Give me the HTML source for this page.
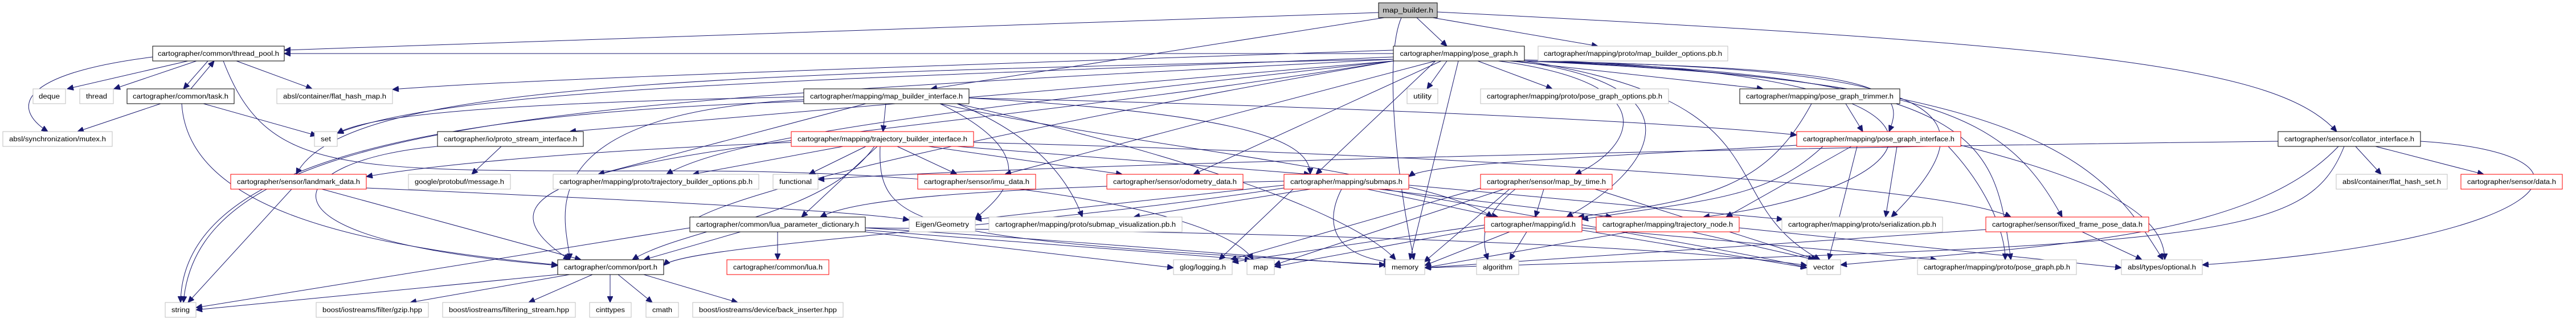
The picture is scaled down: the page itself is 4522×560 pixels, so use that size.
<!DOCTYPE html>
<html><head><meta charset="utf-8">
<style>
html,body{margin:0;padding:0;background:#fff;}
svg{display:block;}
text{font-family:"Liberation Sans",Arial,sans-serif;font-size:11.5px;fill:#000;}
</style></head>
<body>
<svg width="4522" height="560" viewBox="0 0 4522 560" xmlns="http://www.w3.org/2000/svg">
<defs>
<marker id="a" markerUnits="userSpaceOnUse" markerWidth="12" markerHeight="10" refX="11" refY="5" orient="auto">
<path d="M0,0 L11,5 L0,10 z" fill="#191970" stroke="#191970"/>
</marker>
</defs>
<g fill="none" stroke="#191970" stroke-width="1" marker-end="url(#a)">
<path d="M2420,22 L499,88"/>
<path d="M2446,94 L499,94"/>
<path d="M2430,31 L1634,156"/>
<path d="M2487,31 L2540,81"/>
<path d="M2515,31 L2805,81"/>
<path d="M2523,21 C3700,80 4000,120 4102,231"/>
<path d="M2460,31 C2430,100 2450,300 2482,456"/>
<path d="M330,107 L118,156"/>
<path d="M345,107 L200,156"/>
<path d="M365,107 L322,156"/>
<path d="M335,156 L376,107"/>
<path d="M415,107 L548,156"/>
<path d="M268,100 C30,130 20,190 84,231"/>
<path d="M392,107 C470,310 600,300 1200,300 C1800,300 2150,380 2200,456"/>
<path d="M282,182 L136,231"/>
<path d="M357,182 L556,238"/>
<path d="M319,182 C330,360 600,430 979,465"/>
<path d="M2446,88 C1500,120 900,140 689,157"/>
<path d="M2446,100 C1500,140 800,150 592,234"/>
<path d="M2446,104 C1200,130 600,150 520,306"/>
<path d="M2446,104 C1000,180 350,200 322,531"/>
<path d="M2446,107 C1500,260 700,260 1000,456"/>
<path d="M2446,107 C1800,220 1300,330 1211,390"/>
<path d="M2446,107 C1800,180 1300,230 1170,306"/>
<path d="M2540,107 L2505,156"/>
<path d="M2594,107 L2725,156"/>
<path d="M2650,107 L3095,156"/>
<path d="M2670,107 C3300,120 3350,150 3316,231"/>
<path d="M2520,107 L2310,306"/>
<path d="M2630,107 C2950,150 2850,270 2765,306"/>
<path d="M2660,107 C3000,150 2900,300 2750,381"/>
<path d="M2676,105 C3550,130 3400,330 2990,381"/>
<path d="M2560,107 L2475,456"/>
<path d="M2676,107 C3150,180 3000,350 3195,456"/>
<path d="M2676,107 C3450,120 3500,200 3320,381"/>
<path d="M2676,107 C3500,130 3500,250 3530,456"/>
<path d="M2676,107 C3600,140 3700,300 3797,456"/>
<path d="M2676,107 C3400,140 3520,200 3620,381"/>
<path d="M2520,107 L1764,306"/>
<path d="M2530,107 L2095,306"/>
<path d="M2446,107 L1000,231"/>
<path d="M1555,182 L1550,231"/>
<path d="M1520,182 L1050,306"/>
<path d="M1701,172 C2200,200 2300,250 2300,306"/>
<path d="M1701,172 C2500,190 3000,220 3154,237"/>
<path d="M1650,182 C2000,260 2500,300 2620,381"/>
<path d="M1680,182 C1800,230 1870,300 1900,381"/>
<path d="M1411,175 C900,200 1000,400 1000,456"/>
<path d="M1411,170 C900,180 650,200 592,234"/>
<path d="M1411,178 C700,200 320,300 317,531"/>
<path d="M1650,182 C1850,280 1750,350 1712,384"/>
<path d="M1680,182 C2200,300 2400,400 2450,456"/>
<path d="M1520,257 L1420,306"/>
<path d="M1575,257 L1680,306"/>
<path d="M1630,257 L1970,306"/>
<path d="M1709,250 C2500,270 3400,320 3530,381"/>
<path d="M1389,250 C900,270 700,300 643,310"/>
<path d="M1680,257 L2300,306"/>
<path d="M1540,257 L1407,381"/>
<path d="M1535,257 C1450,380 1200,400 1110,456"/>
<path d="M1545,257 C1540,400 1600,420 2440,465"/>
<path d="M1480,257 L1216,306"/>
<path d="M880,257 L828,306"/>
<path d="M768,257 C500,280 400,420 979,466"/>
<path d="M512,332 L330,531"/>
<path d="M565,332 L1020,456"/>
<path d="M643,330 C1100,350 1500,370 1596,386"/>
<path d="M979,482 L344,544"/>
<path d="M1000,482 L720,531"/>
<path d="M1040,482 L928,531"/>
<path d="M1071,482 L1071,531"/>
<path d="M1085,482 L1145,531"/>
<path d="M1130,482 L1295,531"/>
<path d="M1365,407 L1365,456"/>
<path d="M1519,404 L2196,456"/>
<path d="M1519,400 C2000,430 2300,460 2432,465"/>
<path d="M1211,400 L344,540"/>
<path d="M1519,407 L2060,470"/>
<path d="M1519,400 C2500,410 3000,440 3172,466"/>
<path d="M1300,407 L1130,456"/>
<path d="M2254,325 L1712,385"/>
<path d="M2400,332 L2630,381"/>
<path d="M2355,332 C2320,400 2350,450 2440,460"/>
<path d="M2430,332 C2800,400 3100,450 3172,470"/>
<path d="M2270,332 L2140,456"/>
<path d="M2473,325 L3130,385"/>
<path d="M2300,332 L1990,381"/>
<path d="M2254,318 C1700,330 1500,350 1440,381"/>
<path d="M2254,330 C1800,400 1200,430 1165,466"/>
<path d="M2420,332 L2830,381"/>
<path d="M2710,332 L2695,381"/>
<path d="M2650,332 L2500,460"/>
<path d="M2640,332 L2237,465"/>
<path d="M2660,332 C2600,380 2600,420 2612,456"/>
<path d="M2800,332 L3190,456"/>
<path d="M2600,330 L2160,456"/>
<path d="M2650,407 L2501,466"/>
<path d="M2680,407 L2650,456"/>
<path d="M2777,404 L3172,470"/>
<path d="M2606,400 L2237,468"/>
<path d="M2606,395 L2163,460"/>
<path d="M2777,400 L3400,456"/>
<path d="M2860,407 L2501,470"/>
<path d="M2970,407 L3185,456"/>
<path d="M3053,400 L3724,470"/>
<path d="M3240,182 L3270,231"/>
<path d="M3180,182 C3100,330 3000,350 2770,381"/>
<path d="M3200,257 C3100,350 3000,350 2777,385"/>
<path d="M3250,257 L3030,381"/>
<path d="M3260,257 L3210,456"/>
<path d="M3442,255 C3700,320 3800,380 3800,456"/>
<path d="M3420,257 C3480,320 3520,400 3520,456"/>
<path d="M3330,257 L3310,381"/>
<path d="M3154,255 C2700,280 2500,290 2473,310"/>
<path d="M3999,248 C3000,260 1800,290 1436,315"/>
<path d="M4135,257 L4180,306"/>
<path d="M4170,257 L4360,306"/>
<path d="M4249,248 C4600,270 4500,420 3866,465"/>
<path d="M4105,257 C3950,420 3600,430 3231,465"/>
<path d="M4115,257 C4050,420 3900,430 2501,470"/>
<path d="M3655,407 L3760,456"/>
<path d="M3486,403 L2501,470"/>
</g>
<g>
<rect x="2420" y="5" width="103" height="26" fill="#bfbfbf" stroke="#000"/><text x="2471.5" y="22" text-anchor="middle" textLength="89" lengthAdjust="spacingAndGlyphs">map_builder.h</text>
<rect x="268" y="81" width="231" height="26" fill="#fff" stroke="#000"/><text x="383.5" y="98" text-anchor="middle" textLength="213" lengthAdjust="spacingAndGlyphs">cartographer/common/thread_pool.h</text>
<rect x="2446" y="81" width="230" height="26" fill="#fff" stroke="#000"/><text x="2561" y="98" text-anchor="middle" textLength="207" lengthAdjust="spacingAndGlyphs">cartographer/mapping/pose_graph.h</text>
<rect x="2700" y="81" width="333" height="26" fill="#fff" stroke="#bfbfbf"/><text x="2866.5" y="98" text-anchor="middle" textLength="313" lengthAdjust="spacingAndGlyphs">cartographer/mapping/proto/map_builder_options.pb.h</text>
<rect x="58" y="156" width="57" height="26" fill="#fff" stroke="#bfbfbf"/><text x="86.5" y="173" text-anchor="middle" textLength="37" lengthAdjust="spacingAndGlyphs">deque</text>
<rect x="140" y="156" width="59" height="26" fill="#fff" stroke="#bfbfbf"/><text x="169.5" y="173" text-anchor="middle" textLength="37" lengthAdjust="spacingAndGlyphs">thread</text>
<rect x="223" y="156" width="188" height="26" fill="#fff" stroke="#000"/><text x="317" y="173" text-anchor="middle" textLength="168" lengthAdjust="spacingAndGlyphs">cartographer/common/task.h</text>
<rect x="486" y="156" width="203" height="26" fill="#fff" stroke="#bfbfbf"/><text x="587.5" y="173" text-anchor="middle" textLength="181" lengthAdjust="spacingAndGlyphs">absl/container/flat_hash_map.h</text>
<rect x="1411" y="156" width="290" height="26" fill="#fff" stroke="#000"/><text x="1556" y="173" text-anchor="middle" textLength="268" lengthAdjust="spacingAndGlyphs">cartographer/mapping/map_builder_interface.h</text>
<rect x="2470" y="156" width="54" height="26" fill="#fff" stroke="#bfbfbf"/><text x="2497" y="173" text-anchor="middle" textLength="32" lengthAdjust="spacingAndGlyphs">utility</text>
<rect x="2599" y="156" width="330" height="26" fill="#fff" stroke="#bfbfbf"/><text x="2764" y="173" text-anchor="middle" textLength="308" lengthAdjust="spacingAndGlyphs">cartographer/mapping/proto/pose_graph_options.pb.h</text>
<rect x="3054" y="156" width="281" height="26" fill="#fff" stroke="#000"/><text x="3194.5" y="173" text-anchor="middle" textLength="259" lengthAdjust="spacingAndGlyphs">cartographer/mapping/pose_graph_trimmer.h</text>
<rect x="5" y="231" width="192" height="26" fill="#fff" stroke="#bfbfbf"/><text x="101" y="248" text-anchor="middle" textLength="170" lengthAdjust="spacingAndGlyphs">absl/synchronization/mutex.h</text>
<rect x="552" y="231" width="40" height="26" fill="#fff" stroke="#bfbfbf"/><text x="572" y="248" text-anchor="middle" textLength="18" lengthAdjust="spacingAndGlyphs">set</text>
<rect x="768" y="231" width="256" height="26" fill="#fff" stroke="#000"/><text x="896" y="248" text-anchor="middle" textLength="234" lengthAdjust="spacingAndGlyphs">cartographer/io/proto_stream_interface.h</text>
<rect x="1389" y="231" width="320" height="26" fill="#fff" stroke="#ff0000"/><text x="1549" y="248" text-anchor="middle" textLength="298" lengthAdjust="spacingAndGlyphs">cartographer/mapping/trajectory_builder_interface.h</text>
<rect x="3154" y="231" width="288" height="26" fill="#fff" stroke="#ff0000"/><text x="3298" y="248" text-anchor="middle" textLength="266" lengthAdjust="spacingAndGlyphs">cartographer/mapping/pose_graph_interface.h</text>
<rect x="3999" y="231" width="250" height="26" fill="#fff" stroke="#000"/><text x="4124" y="248" text-anchor="middle" textLength="228" lengthAdjust="spacingAndGlyphs">cartographer/sensor/collator_interface.h</text>
<rect x="405" y="306" width="238" height="26" fill="#fff" stroke="#ff0000"/><text x="524" y="323" text-anchor="middle" textLength="216" lengthAdjust="spacingAndGlyphs">cartographer/sensor/landmark_data.h</text>
<rect x="717" y="306" width="179" height="26" fill="#fff" stroke="#bfbfbf"/><text x="806.5" y="323" text-anchor="middle" textLength="157" lengthAdjust="spacingAndGlyphs">google/protobuf/message.h</text>
<rect x="971" y="306" width="361" height="26" fill="#fff" stroke="#bfbfbf"/><text x="1151.5" y="323" text-anchor="middle" textLength="339" lengthAdjust="spacingAndGlyphs">cartographer/mapping/proto/trajectory_builder_options.pb.h</text>
<rect x="1357" y="306" width="79" height="26" fill="#fff" stroke="#bfbfbf"/><text x="1396.5" y="323" text-anchor="middle" textLength="57" lengthAdjust="spacingAndGlyphs">functional</text>
<rect x="1611" y="306" width="207" height="26" fill="#fff" stroke="#ff0000"/><text x="1714.5" y="323" text-anchor="middle" textLength="185" lengthAdjust="spacingAndGlyphs">cartographer/sensor/imu_data.h</text>
<rect x="1943" y="306" width="239" height="26" fill="#fff" stroke="#ff0000"/><text x="2062.5" y="323" text-anchor="middle" textLength="217" lengthAdjust="spacingAndGlyphs">cartographer/sensor/odometry_data.h</text>
<rect x="2254" y="306" width="219" height="26" fill="#fff" stroke="#ff0000"/><text x="2363.5" y="323" text-anchor="middle" textLength="197" lengthAdjust="spacingAndGlyphs">cartographer/mapping/submaps.h</text>
<rect x="2599" y="306" width="231" height="26" fill="#fff" stroke="#ff0000"/><text x="2714.5" y="323" text-anchor="middle" textLength="209" lengthAdjust="spacingAndGlyphs">cartographer/sensor/map_by_time.h</text>
<rect x="4101" y="306" width="195" height="26" fill="#fff" stroke="#bfbfbf"/><text x="4198.5" y="323" text-anchor="middle" textLength="173" lengthAdjust="spacingAndGlyphs">absl/container/flat_hash_set.h</text>
<rect x="4320" y="306" width="178" height="26" fill="#fff" stroke="#ff0000"/><text x="4409" y="323" text-anchor="middle" textLength="156" lengthAdjust="spacingAndGlyphs">cartographer/sensor/data.h</text>
<rect x="1211" y="381" width="308" height="26" fill="#fff" stroke="#000"/><text x="1365" y="398" text-anchor="middle" textLength="286" lengthAdjust="spacingAndGlyphs">cartographer/common/lua_parameter_dictionary.h</text>
<rect x="1596" y="381" width="116" height="26" fill="#fff" stroke="#bfbfbf"/><text x="1654" y="398" text-anchor="middle" textLength="94" lengthAdjust="spacingAndGlyphs">Eigen/Geometry</text>
<rect x="1736" y="381" width="339" height="26" fill="#fff" stroke="#bfbfbf"/><text x="1905.5" y="398" text-anchor="middle" textLength="317" lengthAdjust="spacingAndGlyphs">cartographer/mapping/proto/submap_visualization.pb.h</text>
<rect x="2606" y="381" width="171" height="26" fill="#fff" stroke="#ff0000"/><text x="2691.5" y="398" text-anchor="middle" textLength="149" lengthAdjust="spacingAndGlyphs">cartographer/mapping/id.h</text>
<rect x="2802" y="381" width="251" height="26" fill="#fff" stroke="#ff0000"/><text x="2927.5" y="398" text-anchor="middle" textLength="229" lengthAdjust="spacingAndGlyphs">cartographer/mapping/trajectory_node.h</text>
<rect x="3128" y="381" width="282" height="26" fill="#fff" stroke="#bfbfbf"/><text x="3269" y="398" text-anchor="middle" textLength="260" lengthAdjust="spacingAndGlyphs">cartographer/mapping/proto/serialization.pb.h</text>
<rect x="3486" y="381" width="286" height="26" fill="#fff" stroke="#ff0000"/><text x="3629" y="398" text-anchor="middle" textLength="264" lengthAdjust="spacingAndGlyphs">cartographer/sensor/fixed_frame_pose_data.h</text>
<rect x="979" y="456" width="186" height="26" fill="#fff" stroke="#000"/><text x="1072" y="473" text-anchor="middle" textLength="164" lengthAdjust="spacingAndGlyphs">cartographer/common/port.h</text>
<rect x="1276" y="456" width="179" height="26" fill="#fff" stroke="#ff0000"/><text x="1365.5" y="473" text-anchor="middle" textLength="157" lengthAdjust="spacingAndGlyphs">cartographer/common/lua.h</text>
<rect x="2060" y="456" width="103" height="26" fill="#fff" stroke="#bfbfbf"/><text x="2111.5" y="473" text-anchor="middle" textLength="81" lengthAdjust="spacingAndGlyphs">glog/logging.h</text>
<rect x="2189" y="456" width="48" height="26" fill="#fff" stroke="#bfbfbf"/><text x="2213" y="473" text-anchor="middle" textLength="26" lengthAdjust="spacingAndGlyphs">map</text>
<rect x="2432" y="456" width="69" height="26" fill="#fff" stroke="#bfbfbf"/><text x="2466.5" y="473" text-anchor="middle" textLength="47" lengthAdjust="spacingAndGlyphs">memory</text>
<rect x="2592" y="456" width="74" height="26" fill="#fff" stroke="#bfbfbf"/><text x="2629" y="473" text-anchor="middle" textLength="52" lengthAdjust="spacingAndGlyphs">algorithm</text>
<rect x="3172" y="456" width="59" height="26" fill="#fff" stroke="#bfbfbf"/><text x="3201.5" y="473" text-anchor="middle" textLength="37" lengthAdjust="spacingAndGlyphs">vector</text>
<rect x="3366" y="456" width="279" height="26" fill="#fff" stroke="#bfbfbf"/><text x="3505.5" y="473" text-anchor="middle" textLength="257" lengthAdjust="spacingAndGlyphs">cartographer/mapping/proto/pose_graph.pb.h</text>
<rect x="3724" y="456" width="142" height="26" fill="#fff" stroke="#bfbfbf"/><text x="3795" y="473" text-anchor="middle" textLength="120" lengthAdjust="spacingAndGlyphs">absl/types/optional.h</text>
<rect x="290" y="531" width="54" height="26" fill="#fff" stroke="#bfbfbf"/><text x="317" y="548" text-anchor="middle" textLength="32" lengthAdjust="spacingAndGlyphs">string</text>
<rect x="555" y="531" width="197" height="26" fill="#fff" stroke="#bfbfbf"/><text x="653.5" y="548" text-anchor="middle" textLength="175" lengthAdjust="spacingAndGlyphs">boost/iostreams/filter/gzip.hpp</text>
<rect x="777" y="531" width="233" height="26" fill="#fff" stroke="#bfbfbf"/><text x="893.5" y="548" text-anchor="middle" textLength="211" lengthAdjust="spacingAndGlyphs">boost/iostreams/filtering_stream.hpp</text>
<rect x="1035" y="531" width="73" height="26" fill="#fff" stroke="#bfbfbf"/><text x="1071.5" y="548" text-anchor="middle" textLength="51" lengthAdjust="spacingAndGlyphs">cinttypes</text>
<rect x="1134" y="531" width="57" height="26" fill="#fff" stroke="#bfbfbf"/><text x="1162.5" y="548" text-anchor="middle" textLength="35" lengthAdjust="spacingAndGlyphs">cmath</text>
<rect x="1216" y="531" width="264" height="26" fill="#fff" stroke="#bfbfbf"/><text x="1348" y="548" text-anchor="middle" textLength="242" lengthAdjust="spacingAndGlyphs">boost/iostreams/device/back_inserter.hpp</text>
</g>
</svg>
</body></html>
